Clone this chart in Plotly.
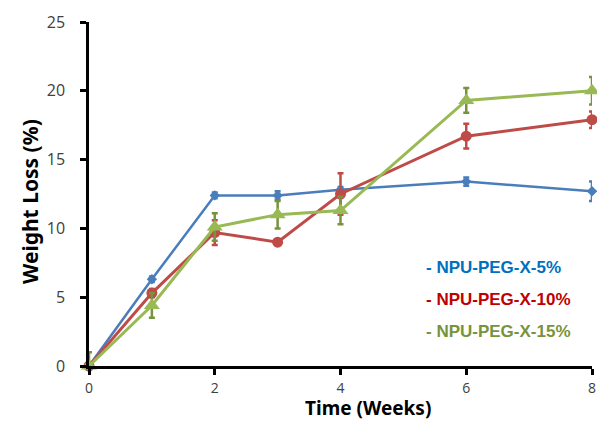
import plotly.graph_objects as go

weeks = [0, 1, 2, 3, 4, 6, 8]

loss_5 = [0, 6.3, 12.4, 12.4, 12.8, 13.4, 12.7]
err_5 = [0, 0.2, 0.2, 0.3, 0.2, 0.3, 0.7]

loss_10 = [0, 5.3, 9.7, 9.0, 12.5, 16.7, 17.9]
err_10 = [0, 0.3, 0.9, 0.2, 1.5, 0.9, 0.6]

loss_15 = [0, 4.4, 10.1, 11.0, 11.3, 19.3, 20.0]
err_15 = [1.0, 0.9, 1.0, 1.0, 1.0, 0.9, 1.0]

series_names = ["NPU-PEG-X-5%", "NPU-PEG-X-10%", "NPU-PEG-X-15%"]
line_colors = ["#4A7EBB", "#BE4B48", "#98B954"]
err_colors = ["#4A7EBB", "#BE4B48", "#77933C"]
label_colors = ["#0070C0", "#C00000", "#77933C"]
symbols = ["diamond", "circle", "triangle-up"]
marker_sizes = [8, 11, 14]
line_widths = [2.5, 3, 3]

fig = go.Figure()
for y, e, name, lc, ec, sym, ms, lw in zip(
    [loss_5, loss_10, loss_15], [err_5, err_10, err_15], series_names,
    line_colors, err_colors, symbols, marker_sizes, line_widths,
):
    fig.add_trace(go.Scatter(
        x=weeks, y=y, name=name, mode="lines+markers",
        line=dict(color=lc, width=lw),
        marker=dict(symbol=sym, size=ms, color=lc),
        error_y=dict(type="data", array=e, visible=True, color=ec,
                     thickness=2.5, width=3),
        cliponaxis=False,
    ))

plot_left, plot_right, plot_top, plot_bottom = 89, 592, 22, 366
plot_w = plot_right - plot_left
plot_h = plot_bottom - plot_top


def dom_x(px):
    return (px - plot_left) / plot_w


def dom_y(py):
    return (plot_bottom - py) / plot_h


# series labels drawn as coloured text
for i, (name, col) in enumerate(zip(series_names, label_colors)):
    fig.add_annotation(
        x=dom_x(424), y=dom_y(267 + i * 32),
        xref="x domain", yref="y domain",
        text="- " + name, showarrow=False, xanchor="left", yanchor="middle",
        font=dict(family="Liberation Sans", size=17, color=col, weight="bold"),
    )

title_font = dict(family="Noto Sans", size=19, color="black", weight="bold")
# axis titles
fig.add_annotation(
    x=dom_x(368), y=dom_y(422), xref="x domain", yref="y domain",
    text="Time (Weeks)", showarrow=False, xanchor="center", yanchor="bottom",
    borderpad=0, font=title_font,
)
fig.add_annotation(
    x=dom_x(30), y=dom_y(202), xref="x domain", yref="y domain",
    text="Weight Loss (%)", showarrow=False, xanchor="center", yanchor="middle",
    textangle=-90, font=dict(title_font, size=21),
)

fig.update_layout(
    width=597, height=422,
    margin=dict(l=plot_left, r=597 - plot_right, t=plot_top, b=422 - plot_bottom),
    plot_bgcolor="white", paper_bgcolor="white",
    showlegend=False,
    xaxis=dict(
        range=[0, 8], tickvals=[0, 2, 4, 6, 8], automargin=False,
        showgrid=False, zeroline=False,
        showline=True, linecolor="black", linewidth=2.5,
        ticks="outside", ticklen=6, tickwidth=2.5, tickcolor="black",
        ticklabelstandoff=1,
        tickfont=dict(family="Open Sans", size=14, color="#404040"),
    ),
    yaxis=dict(
        range=[0, 25], tickvals=[0, 5, 10, 15, 20, 25], automargin=False,
        showgrid=False, zeroline=False,
        showline=True, linecolor="black", linewidth=2.5,
        ticks="outside", ticklen=6, tickwidth=2.5, tickcolor="black",
        ticklabelstandoff=12,
        tickfont=dict(family="Open Sans", size=16, color="#404040"),
    ),
)

fig.write_html("out.html")
